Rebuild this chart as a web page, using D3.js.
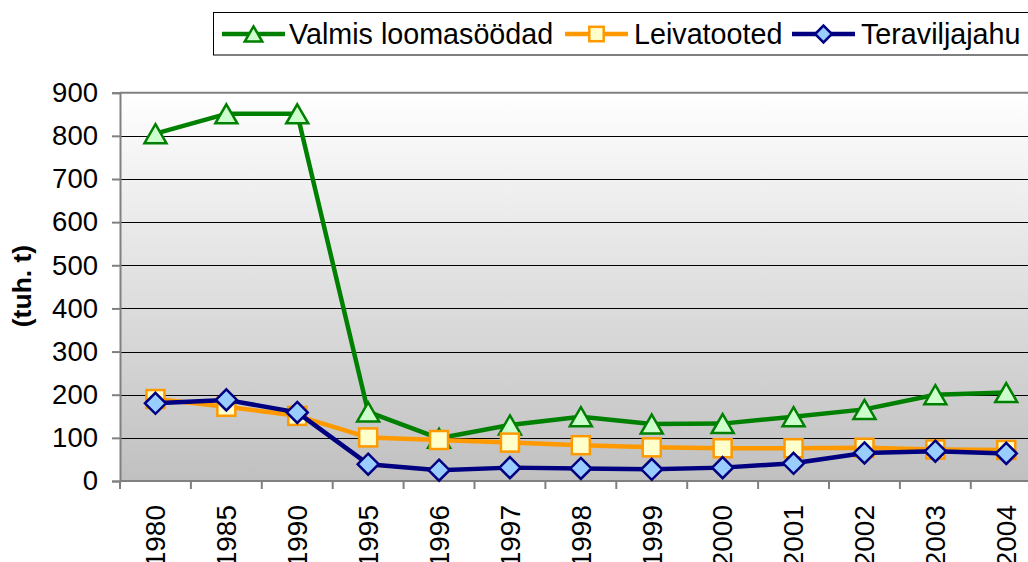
<!DOCTYPE html>
<html>
<head>
<meta charset="utf-8">
<script src="https://cdn.jsdelivr.net/npm/d3@7"></script>
<style>
  html, body { margin: 0; padding: 0; background: #fff; }
  svg { display: block; font-family: "Liberation Sans", Arial, sans-serif; }
</style>
</head>
<body>
<svg id="chart" width="1028" height="562"></svg>
<script>
const years = ["1980","1985","1990","1995","1996","1997","1998","1999","2000","2001","2002","2003","2004"];
const valmisLoomasoodad = [805, 851, 851, 160, 99, 130, 149, 132, 133, 149, 166, 200, 205];
const leivatooted = [190, 172, 151, 101, 95, 89, 83, 78, 76, 76, 77, 73, 72];
const teraviljajahu = [180, 188, 159, 39, 25, 31, 29, 27, 31, 41, 65, 69, 64];
const yTicks = [0, 100, 200, 300, 400, 500, 600, 700, 800, 900];
const seriesNames = ["Valmis loomasöödad", "Leivatooted", "Teraviljajahu"];
const yTitle = "(tuh. t)";

const svg = d3.select("#chart");
const pLeft = 120, pTop = 92.7, pBottom = 481, pRight = 120 + 13 * 70.9;

const x = d3.scaleBand().domain(years).range([pLeft, pRight]);
const y = d3.scaleLinear().domain([0, 900]).range([pBottom, pTop]);

const defs = svg.append("defs");
const grad = defs.append("linearGradient").attr("id", "bg").attr("x1", 0).attr("y1", 0).attr("x2", 0).attr("y2", 1);
grad.append("stop").attr("offset", "0%").attr("stop-color", "#ffffff");
grad.append("stop").attr("offset", "100%").attr("stop-color", "#c0c0c0");

svg.append("rect").attr("x", pLeft).attr("y", pTop).attr("width", pRight - pLeft).attr("height", pBottom - pTop).attr("fill", "url(#bg)");

// gridlines
svg.append("g").selectAll("line").data(yTicks.filter(t => t > 0 && t < 900)).join("line")
  .attr("x1", pLeft).attr("x2", pRight)
  .attr("y1", d => Math.round(y(d)) + 0.5).attr("y2", d => Math.round(y(d)) + 0.5)
  .attr("stroke", "#000").attr("stroke-width", 1);

// top border
svg.append("line").attr("x1", pLeft).attr("x2", pRight).attr("y1", y(900)).attr("y2", y(900))
  .attr("stroke", "#808080").attr("stroke-width", 2);

// Y axis
const yAxis = d3.axisLeft(y).tickValues(yTicks).tickSize(8).tickPadding(14).tickFormat(d3.format("d"));
const gy = svg.append("g").attr("transform", `translate(${pLeft},0)`).call(yAxis);
gy.select(".domain").attr("stroke", "#808080").attr("stroke-width", 2);
gy.selectAll(".tick line").attr("stroke", "#808080").attr("stroke-width", 2);
gy.selectAll(".tick text").attr("font-size", 27.5).attr("fill", "#000")
  .attr("font-family", "'Liberation Sans', Arial, sans-serif");

// X axis
const gx = svg.append("g").attr("transform", `translate(0,${pBottom})`);
gx.append("line").attr("x1", pLeft).attr("x2", pRight).attr("y1", 0).attr("y2", 0)
  .attr("stroke", "#808080").attr("stroke-width", 2);
const boundaries = years.map(d => x(d)).concat([pRight]);
gx.selectAll("line.tk").data(boundaries).join("line").attr("class", "tk")
  .attr("x1", d => d).attr("x2", d => d).attr("y1", 0).attr("y2", 8)
  .attr("stroke", "#808080").attr("stroke-width", 2);
gx.selectAll("text").data(years).join("text")
  .attr("transform", d => `translate(${x(d) + x.bandwidth() / 2},24) rotate(-90)`)
  .attr("text-anchor", "end").attr("dy", "0.35em")
  .attr("font-size", 28).attr("fill", "#000").text(d => d);

// Y title
svg.append("text").attr("transform", `translate(22,286) rotate(-90)`)
  .attr("text-anchor", "middle").attr("dy", "0.35em")
  .attr("font-size", 26.5).attr("font-weight", "bold").attr("fill", "#000").text(yTitle);

// markers
function triangle(g, cx, cy, s) {
  const w = 11 * s, h = 9.5 * s;
  g.append("path").attr("d", `M${cx},${cy - h} L${cx + w},${cy + h} L${cx - w},${cy + h} Z`)
    .attr("fill", "#ccffcc").attr("stroke", "#008000").attr("stroke-width", 2.5).attr("stroke-linejoin", "miter");
}
function square(g, cx, cy, s) {
  const h = 9 * s;
  g.append("rect").attr("x", cx - h).attr("y", cy - h).attr("width", 2 * h).attr("height", 2 * h)
    .attr("fill", "#ffffcc").attr("stroke", "#ff9900").attr("stroke-width", 2.5);
}
function diamond(g, cx, cy, s) {
  const h = 10.5 * s;
  g.append("path").attr("d", `M${cx},${cy - h} L${cx + h},${cy} L${cx},${cy + h} L${cx - h},${cy} Z`)
    .attr("fill", "#99ccff").attr("stroke", "#000080").attr("stroke-width", 2.5);
}

const series = [
  { name: seriesNames[0], values: valmisLoomasoodad, color: "#008000", marker: triangle },
  { name: seriesNames[1], values: leivatooted, color: "#ff9900", marker: square },
  { name: seriesNames[2], values: teraviljajahu, color: "#000080", marker: diamond }
];

const line = d3.line().x((d, i) => x(years[i]) + x.bandwidth() / 2).y(d => y(d));
series.forEach(s => {
  const g = svg.append("g");
  g.append("path").datum(s.values).attr("d", line).attr("fill", "none")
    .attr("stroke", s.color).attr("stroke-width", 4.5).attr("stroke-linejoin", "round");
  s.values.forEach((v, i) => s.marker(g, x(years[i]) + x.bandwidth() / 2, y(v), 1));
});

// legend
const lg = svg.append("g");
lg.append("rect").attr("x", 213.5).attr("y", 12.5).attr("width", 830).attr("height", 42.5)
  .attr("fill", "#fff").attr("stroke", "#000").attr("stroke-width", 1);
const legendItems = [
  { x1: 222, x2: 285, tx: 289 },
  { x1: 565, x2: 628, tx: 634 },
  { x1: 792, x2: 855, tx: 861 }
];
series.forEach((s, i) => {
  const it = legendItems[i];
  const cy = 34;
  lg.append("line").attr("x1", it.x1).attr("x2", it.x2).attr("y1", cy).attr("y2", cy)
    .attr("stroke", s.color).attr("stroke-width", 4.5);
  const mg = lg.append("g");
  s.marker(mg, (it.x1 + it.x2) / 2, cy, 0.8);
  lg.append("text").attr("x", it.tx).attr("y", cy).attr("dy", "0.36em")
    .attr("font-size", 28.7).attr("fill", "#000").text(s.name);
});
</script>
</body>
</html>
